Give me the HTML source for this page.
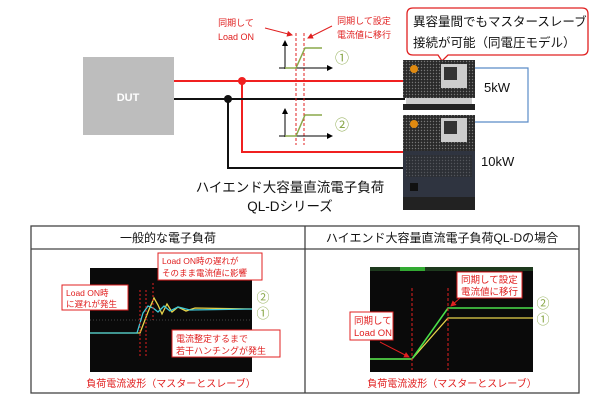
<!DOCTYPE html>
<html><head><meta charset="utf-8"><style>
body{margin:0;background:#fff;}
svg{display:block;font-family:"Liberation Sans","Noto Sans CJK JP",sans-serif;}
</style></head><body>
<svg width="600" height="401" viewBox="0 0 600 401" xmlns="http://www.w3.org/2000/svg">
<defs>
<pattern id="mesh" width="3" height="3" patternUnits="userSpaceOnUse"><rect width="3" height="3" fill="#2a2a2a"/><circle cx="1.5" cy="1.5" r="0.7" fill="#777"/></pattern>
<marker id="ar" markerWidth="6" markerHeight="6" refX="5" refY="3" orient="auto"><path d="M0,0 L6,3 L0,6z" fill="#e02020"/></marker>
<marker id="ak" markerWidth="6" markerHeight="6" refX="5" refY="3" orient="auto"><path d="M0,0 L6,3 L0,6z" fill="#000"/></marker>
</defs>
<!-- DUT -->
<rect x="83" y="57" width="91" height="78" fill="#bdbdbd"/>
<text x="128" y="101" font-size="11" font-weight="bold" fill="#fff" text-anchor="middle">DUT</text>
<!-- wires -->
<path d="M174,81 H405 M242,81 V152 H405" stroke="#f02020" stroke-width="2" fill="none"/>
<path d="M174,99 H405 M228,99 V168 H405" stroke="#111" stroke-width="2" fill="none"/>
<circle cx="242" cy="81" r="4" fill="#f02020"/>
<circle cx="228" cy="99" r="4" fill="#111"/>
<!-- red labels -->
<text font-size="9" fill="#e02020" text-anchor="middle"><tspan x="236" y="26">同期して</tspan><tspan x="236" y="40">Load ON</tspan></text>
<text font-size="9" fill="#e02020" text-anchor="middle"><tspan x="364" y="24">同期して設定</tspan><tspan x="364" y="38">電流値に移行</tspan></text>
<line x1="265" y1="28" x2="292" y2="35" stroke="#e02020" stroke-width="1" marker-end="url(#ar)"/>
<line x1="332" y1="26" x2="308" y2="38" stroke="#e02020" stroke-width="1" marker-end="url(#ar)"/>
<line x1="296" y1="33" x2="296" y2="145" stroke="#e02020" stroke-dasharray="3,2"/>
<line x1="304" y1="33" x2="304" y2="145" stroke="#e02020" stroke-dasharray="3,2"/>
<!-- mini graphs -->
<g stroke="#000" stroke-width="1">
<line x1="285" y1="69" x2="285" y2="41" marker-end="url(#ak)"/><line x1="279" y1="68" x2="332" y2="68" marker-end="url(#ak)"/>
<line x1="285" y1="137" x2="285" y2="109" marker-end="url(#ak)"/><line x1="279" y1="136" x2="332" y2="136" marker-end="url(#ak)"/>
</g>
<path d="M285,68 H296 L305,48 H322" stroke="#8aa84a" stroke-width="1.5" fill="none"/>
<path d="M285,136 H296 L305,115 H322" stroke="#8aa84a" stroke-width="1.5" fill="none"/>
<text x="342" y="63" font-size="14" fill="#8aa84a" text-anchor="middle">①</text>
<text x="342" y="130" font-size="14" fill="#8aa84a" text-anchor="middle">②</text>
<!-- callout -->
<path d="M413,8 H582 Q588,8 588,14 V49 Q588,55 582,55 H448 L442,61 L438,55 H413 Q407,55 407,49 V14 Q407,8 413,8Z" fill="#fff" stroke="#e02020" stroke-width="1.3"/>
<text font-size="12.5" fill="#111"><tspan x="413" y="26">異容量間でもマスタースレーブ</tspan><tspan x="413" y="47">接続が可能（同電圧モデル）</tspan></text>
<!-- equipment -->
<rect x="403" y="60" width="72" height="38" fill="url(#mesh)"/>
<rect x="441" y="64" width="26" height="24" fill="#ccc"/><rect x="444" y="67" width="13" height="13" fill="#333"/>
<circle cx="414" cy="69" r="4" fill="#e08a10"/>
<rect x="406" y="98" width="66" height="6" fill="#ccc"/><rect x="403" y="104" width="72" height="6" fill="#222"/>
<rect x="403" y="115" width="72" height="36" fill="url(#mesh)"/>
<rect x="441" y="118" width="26" height="24" fill="#ccc"/><rect x="444" y="121" width="13" height="13" fill="#333"/>
<circle cx="414" cy="124" r="4" fill="#e08a10"/>
<rect x="403" y="151" width="72" height="46" fill="#2f3440"/>
<rect x="406" y="155" width="66" height="22" fill="url(#mesh)" opacity="0.5"/>
<rect x="410" y="183" width="8" height="8" fill="#111"/>
<rect x="403" y="197" width="72" height="13" fill="#222"/>
<path d="M475,68 H528 V122 H475" stroke="#5b8cc8" stroke-width="1.2" fill="none"/>
<text x="484" y="92" font-size="13" fill="#111">5kW</text>
<text x="481" y="166" font-size="13" fill="#111">10kW</text>
<text x="290" y="192" font-size="13.5" fill="#111" text-anchor="middle">ハイエンド大容量直流電子負荷</text>
<text x="290" y="211" font-size="13.5" fill="#111" text-anchor="middle">QL-Dシリーズ</text>
<!-- table -->
<rect x="31" y="226" width="548" height="167" fill="none" stroke="#444" stroke-width="1.3"/>
<line x1="31" y1="249" x2="579" y2="249" stroke="#444" stroke-width="1.3"/>
<line x1="305" y1="226" x2="305" y2="393" stroke="#444" stroke-width="1.3"/>
<text x="168" y="242" font-size="12" fill="#111" text-anchor="middle">一般的な電子負荷</text>
<text x="442" y="242" font-size="12" fill="#111" text-anchor="middle">ハイエンド大容量直流電子負荷QL-Dの場合</text>
<!-- left scope -->
<rect x="90" y="268" width="162" height="104" fill="#0a0a0a"/>
<line x1="90" y1="320" x2="252" y2="320" stroke="#444" stroke-dasharray="1,2"/>
<path d="M90,333 H140 L148,312 L154,298 L158,305 L162,314 L167,304 L172,312 L178,307 L186,311 L195,308 L252,309" stroke="#e8d44a" stroke-width="1.3" fill="none"/>
<path d="M90,333 H137 L143,313 L148,306 L153,308 L158,312 L164,306 L170,311 L178,307 L190,310 L252,309" stroke="#3fc8d8" stroke-width="1.3" fill="none"/>
<g stroke="#e02020" stroke-dasharray="2,2"><line x1="140" y1="290" x2="140" y2="356"/><line x1="146" y1="290" x2="146" y2="356"/><line x1="153" y1="283" x2="153" y2="320"/></g>
<rect x="158" y="253" width="104" height="27" fill="#fff" stroke="#e02020"/>
<text font-size="8.5" fill="#e02020"><tspan x="162" y="264">Load ON時の遅れが</tspan><tspan x="162" y="276">そのまま電流値に影響</tspan></text>
<rect x="62" y="285" width="66" height="25" fill="#fff" stroke="#e02020"/>
<text font-size="8.5" fill="#e02020"><tspan x="66" y="296">Load ON時</tspan><tspan x="66" y="307">に遅れが発生</tspan></text>
<rect x="172" y="330" width="108" height="27" fill="#fff" stroke="#e02020"/>
<text font-size="9" fill="#e02020"><tspan x="176" y="342">電流整定するまで</tspan><tspan x="176" y="354">若干ハンチングが発生</tspan></text>
<text x="263" y="302" font-size="13" fill="#8aa84a" text-anchor="middle">②</text>
<text x="263" y="318" font-size="13" fill="#8aa84a" text-anchor="middle">①</text>
<text x="171" y="387" font-size="10" fill="#e02020" text-anchor="middle">負荷電流波形（マスターとスレーブ）</text>
<!-- right scope -->
<rect x="370" y="267" width="163" height="105" fill="#0a0a0a"/>
<rect x="370" y="267" width="163" height="4" fill="#1e3a1e"/><rect x="400" y="267" width="25" height="4" fill="#3a3"/>
<path d="M370,359 H412 L448,318 H533" stroke="#e8d44a" stroke-width="1.3" fill="none"/>
<path d="M370,359 H412 L448,308 H533" stroke="#4ae04a" stroke-width="1.6" fill="none"/>
<g stroke="#e02020" stroke-dasharray="3,2"><line x1="412" y1="288" x2="412" y2="370"/><line x1="448" y1="288" x2="448" y2="370"/></g>
<rect x="457" y="272" width="65" height="26" fill="#fff" stroke="#e02020"/>
<text font-size="9.5" fill="#e02020"><tspan x="461" y="283">同期して設定</tspan><tspan x="461" y="295">電流値に移行</tspan></text>
<rect x="350" y="312" width="43" height="28" fill="#fff" stroke="#e02020"/>
<text font-size="9.5" fill="#e02020"><tspan x="354" y="324">同期して</tspan><tspan x="354" y="336">Load ON</tspan></text>
<line x1="380" y1="342" x2="409" y2="357" stroke="#e02020" marker-end="url(#ar)"/>
<line x1="460" y1="298" x2="451" y2="306" stroke="#e02020" marker-end="url(#ar)"/>
<text x="543" y="308" font-size="13" fill="#8aa84a" text-anchor="middle">②</text>
<text x="543" y="324" font-size="13" fill="#8aa84a" text-anchor="middle">①</text>
<text x="452" y="387" font-size="10" fill="#e02020" text-anchor="middle">負荷電流波形（マスターとスレーブ）</text>
</svg>
</body></html>
